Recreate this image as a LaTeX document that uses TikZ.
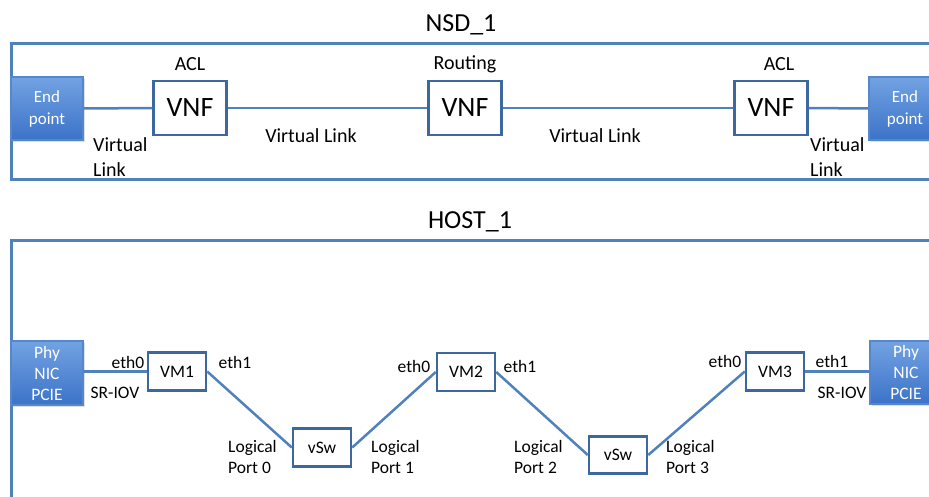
\documentclass[tikz,border=0pt]{standalone}
\usepackage{fontspec}
\setmainfont{Carlito}
\usetikzlibrary{shadows}
\definecolor{linecol}{RGB}{79,129,189}
\definecolor{boxcol}{RGB}{60,104,160}
\definecolor{eptop}{RGB}{114,162,226}
\definecolor{epbot}{RGB}{60,115,200}
\definecolor{epedge}{RGB}{85,135,205}
\begin{document}
\begin{tikzpicture}[x=1pt,y=-1pt,
  frame/.style={draw=linecol,line width=3pt},
  link/.style={draw=linecol,line width=2.5pt},
  vnfbox/.style={draw=boxcol,line width=2.5pt,fill=white,minimum width=73pt,minimum height=54pt,inner sep=0pt,font=\fontsize{28}{30}\selectfont},
  vmbox/.style={draw=boxcol,line width=2.5pt,fill=white,minimum width=58pt,minimum height=38pt,inner sep=0pt,font=\fontsize{17.5}{21}\selectfont},
  endbox/.style={draw=epedge,line width=1.5pt,top color=eptop,bottom color=epbot,text=white,minimum width=72pt,inner sep=0pt,align=center,drop shadow={shadow xshift=1.5pt,shadow yshift=-2pt,fill=black!25}},
  title/.style={font=\fontsize{26}{30}\selectfont},
  big/.style={font=\fontsize{20}{25}\selectfont,inner sep=0pt},
  small/.style={font=\fontsize{17.5}{21}\selectfont,inner sep=0pt},
]
\useasboundingbox (0,0) rectangle (929,497);
% ---------- NSD ----------
\node[title] (nsdt) at (461,25) {NSD\_1};
\draw[frame] (11,44) rectangle (960,180);
\node[endbox,minimum height=63pt,font=\fontsize{17}{22}\selectfont] (ep1) at (47,108.5) {End\\point};
\node[endbox,minimum height=63pt,font=\fontsize{17}{22}\selectfont] (ep2) at (905,108.5) {End\\point};
\node[vnfbox] (vnf1) at (190,108) {VNF};
\node[vnfbox] (vnf2) at (465,108) {VNF};
\node[vnfbox] (vnf3) at (771,108) {VNF};
\node[big] (acl1) at (190,64) {ACL};
\node[big] (rout) at (465,64) {Routing};
\node[big] (acl2) at (779,64) {ACL};
\draw[link] (ep1) -- (vnf1);
\draw[link] (vnf1) -- (vnf2);
\draw[link] (vnf2) -- (vnf3);
\draw[link] (vnf3) -- (ep2);
\node[big,align=left,anchor=west] (vl1) at (93,157) {Virtual\\Link};
\node[big] (vl2) at (311,136) {Virtual Link};
\node[big] (vl3) at (595,136) {Virtual Link};
\node[big,align=left,anchor=west] (vl4) at (810,157) {Virtual\\Link};
% ---------- HOST ----------
\node[title] (hostt) at (470,222) {HOST\_1};
\draw[frame] (11,241) rectangle (960,520);
\node[endbox,minimum height=64pt,font=\fontsize{17.5}{21}\selectfont] (nic1) at (47,373) {Phy\\NIC\\PCIE};
\node[endbox,minimum height=63pt,font=\fontsize{17.5}{21}\selectfont] (nic2) at (906,372.5) {Phy\\NIC\\PCIE};
\node[vmbox] (vm1) at (177,371.5) {VM1};
\node[vmbox] (vm2) at (466,372) {VM2};
\node[vmbox] (vm3) at (775,371.5) {VM3};
\node[vmbox] (vsw1) at (322,447.5) {vSw};
\node[vmbox,minimum height=37pt] (vsw2) at (618,455) {vSw};
\draw[link] (vm1.west -| nic1.east) -- (vm1.west);
\draw[link] (vm1.east) -- (vsw1.west);
\draw[link] (vsw1.east) -- (vm2.west);
\draw[link] (vm2.east) -- (vsw2.west);
\draw[link] (vsw2.east) -- (vm3.west);
\draw[link] (vm3.east) -- (vm3.east -| nic2.west);
\node[small] (e10) at (128,362) {eth0};
\node[small] (e11) at (235,362) {eth1};
\node[small] (sr1) at (115,393) {SR-IOV};
\node[small] (e20) at (414,366) {eth0};
\node[small] (e21) at (520,366) {eth1};
\node[small] (e30) at (725,361) {eth0};
\node[small] (e31) at (832,361) {eth1};
\node[small] (sr2) at (842,393) {SR-IOV};
\node[small,align=left,anchor=west] (lp0) at (228,457) {Logical\\Port 0};
\node[small,align=left,anchor=west] (lp1) at (371,457) {Logical\\Port 1};
\node[small,align=left,anchor=west] (lp2) at (514,457) {Logical\\Port 2};
\node[small,align=left,anchor=west] (lp3) at (666,457) {Logical\\Port 3};
\end{tikzpicture}
\end{document}
